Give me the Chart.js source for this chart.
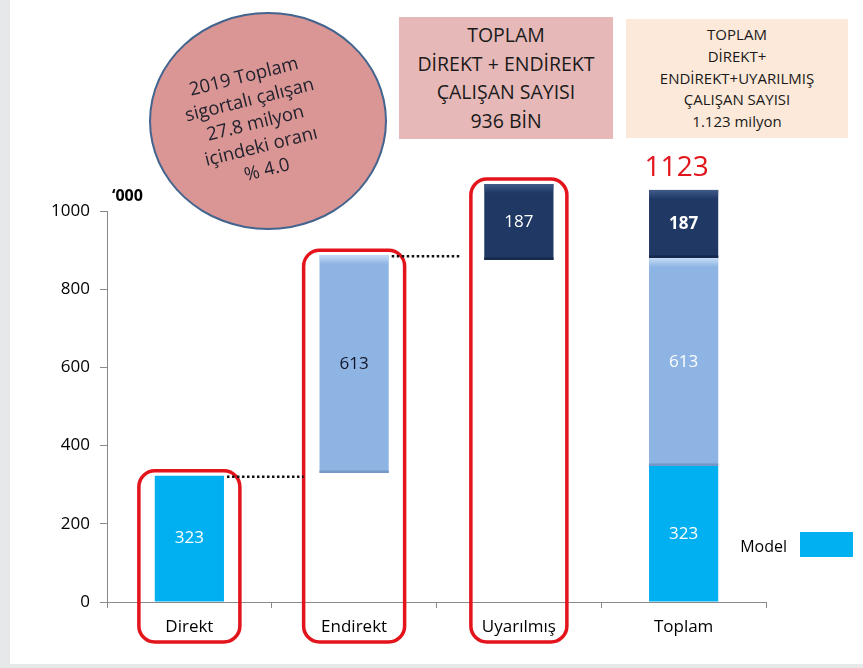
<!DOCTYPE html>
<html>
<head>
<meta charset="utf-8">
<script src="https://cdn.jsdelivr.net/npm/chart.js@4"></script>
<style>
  html, body { margin: 0; padding: 0; }
  body { width: 863px; height: 668px; background: #e7e8ea; position: relative; overflow: hidden; font-family: 'Open Sans', sans-serif; }
  #sheet { position: absolute; left: 10px; top: 0; width: 853px; height: 664px; background: #ffffff; }
  #chart { position: absolute; left: 0; top: 0; }
  .note { position: absolute; display: flex; align-items: center; justify-content: center; text-align: center; box-sizing: border-box; }
  #circle { left: 149px; top: 12px; width: 238px; height: 218px; border-radius: 50%; background: #d99694; border: 2px solid #42648f; color: #22222e; font-size: 18.5px; line-height: 24px; }
  #circle div { transform: translate(-13px, 1px) rotate(-14deg); white-space: nowrap; }
  #box1 { left: 399px; top: 17px; width: 214px; height: 122px; background: #e6b9b8; color: #1a1a1a; font-size: 19.5px; line-height: 28.5px; }
  #box2 { left: 626px; top: 19px; width: 222px; height: 119px; background: #fde9d9; color: #1a1a1a; font-size: 15px; line-height: 21.8px; }
</style>
</head>
<body>
<div id="sheet"></div>
<canvas id="chart" width="863" height="668"></canvas>
<div class="note" id="circle"><div>2019 Toplam<br>sigortalı çalışan<br>27.8 milyon<br>içindeki oranı<br>% 4.0</div></div>
<div class="note" id="box1"><div>TOPLAM<br>DİREKT + ENDİREKT<br>ÇALIŞAN SAYISI<br>936 BİN</div></div>
<div class="note" id="box2"><div>TOPLAM<br>DİREKT+<br>ENDİREKT+UYARILMIŞ<br>ÇALIŞAN SAYISI<br>1.123 milyon</div></div>
<script>
// ---- data ('000 people) ----
const categories = ['Direkt', 'Endirekt', 'Uyarılmış', 'Toplam'];
// floating bar ranges [start, end] as drawn in the picture
const modelSeries = [[0, 323], null, null, [0, 348]];
const endirektSeries = [null, [330, 887], null, [348, 880]];
const uyarilmisSeries = [null, null, [875, 1069], [880, 1054]];
// values written on the bars
const modelLabels = ['323', '', '', '323'];
const endirektLabels = ['', '613', '', '613'];
const uyarilmisLabels = ['', '', '187', '187'];
const totalLabel = '1123';
const unitLabel = '\u2018000';
const legendLabel = 'Model';
const yMin = 0, yMax = 1000, yStep = 200;

const FONT = "'Open Sans', sans-serif";
const CYAN = '#00b0f0', LIGHT = '#8db4e3', NAVY = '#1f3864', RED = '#e3141b';

const overlay = {
  id: 'overlay',
  afterDatasetsDraw(chart) {
    const ctx = chart.ctx;
    const area = chart.chartArea;
    const m0 = chart.getDatasetMeta(0).data;
    const m1 = chart.getDatasetMeta(1).data;
    const m2 = chart.getDatasetMeta(2).data;
    const bars = [m0[0], m1[1], m2[2]];
    ctx.save();

    // bevel on the light-blue and navy bars
    [[m1, 'rgba(200,222,247,1)', 'rgba(200,222,247,0)', '#7398c6'],
     [m2, 'rgba(66,92,138,1)', 'rgba(66,92,138,0)', '#172a4c']].forEach(([meta, hi, hi0, lo]) => {
      meta.forEach(el => {
        if (el.skip || isNaN(el.y) || el.y === el.base) return;
        const l = el.x - el.width / 2, t = el.y;
        const g = ctx.createLinearGradient(0, t, 0, t + 9);
        g.addColorStop(0, hi);
        g.addColorStop(1, hi0);
        ctx.fillStyle = g;
        ctx.fillRect(l, t, el.width, 9);
        ctx.fillStyle = lo;
        ctx.fillRect(l, el.base - 2.5, el.width, 2.5);
      });
    });

    // red rounded frames around the first three columns
    const boxes = bars.map((el, i) => {
      const w = i === 2 ? 96 : 101;
      return { left: el.x - w / 2, right: el.x + w / 2, top: el.y - 5, bottom: area.bottom + 40 };
    });
    ctx.strokeStyle = RED;
    ctx.lineWidth = 3.5;
    boxes.forEach(b => {
      ctx.beginPath();
      ctx.roundRect(b.left, b.top, b.right - b.left, b.bottom - b.top, 16);
      ctx.stroke();
    });

    // dotted connectors
    ctx.strokeStyle = '#111';
    ctx.lineWidth = 2.5;
    ctx.setLineDash([2.5, 2.5]);
    for (let i = 0; i < 2; i++) {
      const el = bars[i];
      const y = el.y + 1;
      ctx.beginPath();
      ctx.moveTo(el.x + el.width / 2 + 3, y);
      ctx.lineTo(boxes[i + 1].left - (i === 1 ? 10 : 0), y);
      ctx.stroke();
    }
    ctx.setLineDash([]);

    // value labels
    ctx.textAlign = 'center';
    ctx.textBaseline = 'middle';
    const sets = [
      [m0, modelLabels, ['#fff', '#fff', '#fff', '#fff'], ['normal', 'normal', 'normal', 'normal']],
      [m1, endirektLabels, ['#fff', '#141428', '#fff', '#fff'], ['normal', 'normal', 'normal', 'normal']],
      [m2, uyarilmisLabels, ['#fff', '#fff', '#fff', '#fff'], ['normal', 'normal', 'normal', 'bold']]
    ];
    sets.forEach(([meta, labels, colors, weights]) => {
      meta.forEach((el, j) => {
        if (!labels[j]) return;
        ctx.fillStyle = colors[j];
        ctx.font = weights[j] + ' 17px ' + FONT;
        ctx.fillText(labels[j], el.x, (el.y + el.base) / 2);
      });
    });

    // total above the stacked column
    const top = m2[3];
    ctx.fillStyle = RED;
    ctx.font = '28px ' + FONT;
    ctx.fillText(totalLabel, top.x - 7, top.y - 22);

    // unit label
    ctx.fillStyle = '#000';
    ctx.font = 'bold 16px ' + FONT;
    ctx.textAlign = 'left';
    ctx.fillText(unitLabel, area.left + 5, area.top - 15);

    // legend
    const sx = area.right + 34, sy = area.bottom - 70;
    ctx.fillStyle = CYAN;
    ctx.fillRect(sx, sy, 53, 25);
    ctx.fillStyle = '#000';
    ctx.font = '16px ' + FONT;
    ctx.textAlign = 'right';
    ctx.fillText(legendLabel, sx - 13, sy + 15);
    ctx.restore();
  }
};

new Chart(document.getElementById('chart'), {
  type: 'bar',
  data: {
    labels: categories,
    datasets: [
      { label: 'Model', data: modelSeries, backgroundColor: CYAN },
      { label: 'Endirekt', data: endirektSeries, backgroundColor: LIGHT },
      { label: 'Uyarılmış', data: uyarilmisSeries, backgroundColor: NAVY }
    ]
  },
  options: {
    responsive: false,
    animation: false,
    events: [],
    layout: { padding: { top: 211, right: 97, left: 0, bottom: 0 } },
    datasets: { bar: { grouped: false, barPercentage: 0.42, categoryPercentage: 1, clip: false, borderWidth: 0 } },
    plugins: { legend: { display: false }, tooltip: { enabled: false } },
    scales: {
      x: {
        grid: { drawOnChartArea: false, tickLength: 6, color: '#8a8a8a', offset: true },
        border: { color: '#8a8a8a' },
        ticks: { color: '#000', font: { family: FONT, size: 17 }, padding: 9 },
        afterFit: s => { s.height = 66; }
      },
      y: {
        min: yMin, max: yMax,
        grid: { drawOnChartArea: false, tickLength: 7, color: '#8a8a8a' },
        border: { color: '#8a8a8a' },
        ticks: { stepSize: yStep, color: '#000', font: { family: FONT, size: 17 }, padding: 10, callback: v => String(v) },
        afterFit: s => { s.width = 107; }
      }
    }
  },
  plugins: [overlay]
});
</script>
</body>
</html>
